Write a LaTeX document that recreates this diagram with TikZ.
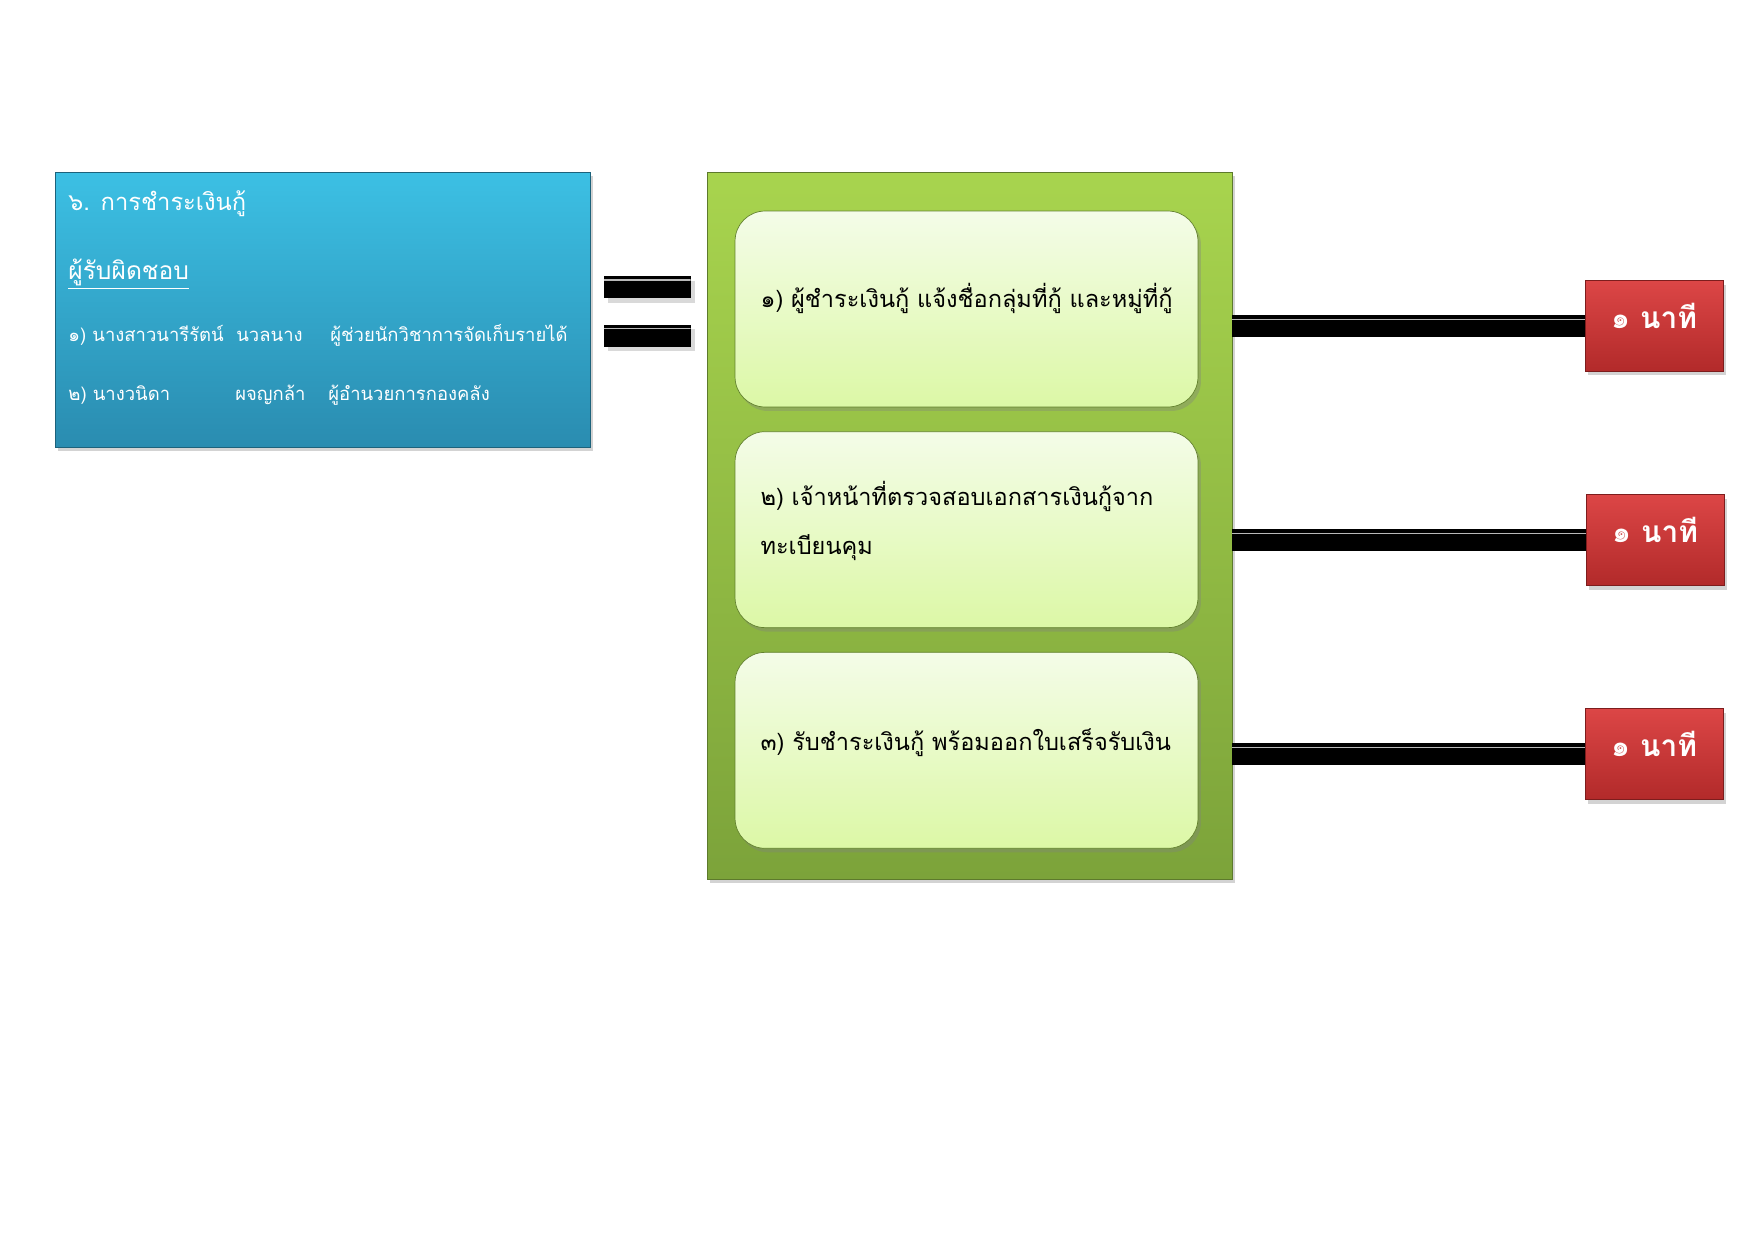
\documentclass[tikz,border=0pt]{standalone}
\usepackage{fontspec}
\setmainfont[Script=Thai]{Loma}
\usetikzlibrary{positioning,shadows}
\definecolor{bluetop}{RGB}{60,192,228}
\definecolor{bluebot}{RGB}{42,140,176}
\definecolor{grntop}{RGB}{168,212,78}
\definecolor{grnbot}{RGB}{124,163,58}
\definecolor{steptop}{RGB}{244,252,232}
\definecolor{stepbot}{RGB}{220,248,166}
\definecolor{redtop}{RGB}{220,70,70}
\definecolor{redbot}{RGB}{178,42,42}

\begin{document}
\begin{tikzpicture}[x=0.02cm,y=-0.02cm,
  panel/.style={inner sep=0pt,drop shadow={opacity=0.35,shadow xshift=0.06cm,shadow yshift=-0.08cm}},
  stepbox/.style={panel,draw=grnbot!80!black,line width=0.4pt,rounded corners=0.6cm,
    top color=steptop,bottom color=stepbot,minimum width=9.26cm,minimum height=3.92cm},
  steptext/.style={inner sep=0pt,text width=8.4cm,align=left,font=\fontsize{13.4}{28}\selectfont},
  timebox/.style={panel,draw=redbot!70!black,top color=redtop,bottom color=redbot,
    minimum width=2.76cm,minimum height=1.82cm},
  timetext/.style={inner sep=0pt,text=white,font=\fontsize{17}{20}\selectfont\bfseries},
  bar/.style={line width=0.44cm,draw=black,
    preaction={draw=black!25,transform canvas={yshift=-0.07cm}},
    postaction={draw=gray!55,line width=0.7pt,transform canvas={yshift=0.13cm}}},
  eqbar/.style={fill=black,minimum width=1.74cm,minimum height=0.44cm,inner sep=0pt,
    drop shadow={opacity=0.3},
    path picture={\draw[gray!55,line width=0.7pt]
      ([yshift=-0.08cm]path picture bounding box.north west) --
      ([yshift=-0.08cm]path picture bounding box.north east);}},
  who/.style={anchor=base west,text=white,inner sep=0pt,font=\fontsize{10.5}{13}\selectfont}]
  \useasboundingbox (0,0) rectangle (1754,1241);
  % left panel: topic and persons in charge
  \node[panel,draw=bluebot!70!black,top color=bluetop,bottom color=bluebot,
    minimum width=10.7cm,minimum height=5.5cm] (topic) at (322.5,309.5) {};
  \node[who,font=\fontsize{13.5}{16}\selectfont] (title) at (68,210) {๖. การชำระเงินกู้};
  \node[who,font=\fontsize{14}{16}\selectfont] (resp) at (68,279) {\underline{ผู้รับผิดชอบ}};
  \node[who] (namea) at (68,341) {๑) นางสาวนารีรัตน์};
  \node[who] (surna) at (236,341) {นวลนาง};
  \node[who] (posa) at (330,341) {ผู้ช่วยนักวิชาการจัดเก็บรายได้};
  \node[who] (nameb) at (68,400) {๒) นางวนิดา};
  \node[who] (surnb) at (235,400) {ผจญกล้า};
  \node[who] (posb) at (328,400) {ผู้อำนวยการกองคลัง};
  % equals sign between the panels
  \node[eqbar] (eqa) at (647,287) {};
  \node[eqbar,below=0.52cm of eqa] (eqb) {};
  % right panel with the three steps
  \node[panel,draw=grnbot!75!black,top color=grntop,bottom color=grnbot,
    minimum width=10.5cm,minimum height=14.14cm] (proc) at (969.5,525.5) {};
  \node[stepbox] (stepa) at (966.5,309) {};
  \node[stepbox,below=0.48cm of stepa] (stepb) {};
  \node[stepbox,below=0.48cm of stepb] (stepc) {};
  \node[steptext] (texta) at ([xshift=0.08cm,yshift=0.21cm]stepa.center) {๑) ผู้ชำระเงินกู้ แจ้งชื่อกลุ่มที่กู้ และหมู่ที่กู้};
  \node[steptext] (textb) at ([xshift=0.08cm,yshift=0.18cm]stepb.center) {๒) เจ้าหน้าที่ตรวจสอบเอกสารเงินกู้จาก\\ทะเบียนคุม};
  \node[steptext] (textc) at ([xshift=0.08cm,yshift=0.16cm]stepc.center) {๓) รับชำระเงินกู้ พร้อมออกใบเสร็จรับเงิน};
  % time per step
  \node[timebox] (timea) at (1654,326) {};
  \node[timebox] (timeb) at (1655,540) {};
  \node[timebox] (timec) at (1654,754) {};
  \node[timetext] (mina) at ([yshift=0.2cm]timea.center) {๑ นาที};
  \node[timetext] (minb) at ([yshift=0.2cm]timeb.center) {๑ นาที};
  \node[timetext] (minc) at ([yshift=0.2cm]timec.center) {๑ นาที};
  \draw[bar] (proc.east |- timea.west) -- (timea.west);
  \draw[bar] (proc.east |- timeb.west) -- (timeb.west);
  \draw[bar] (proc.east |- timec.west) -- (timec.west);
\end{tikzpicture}
\end{document}
